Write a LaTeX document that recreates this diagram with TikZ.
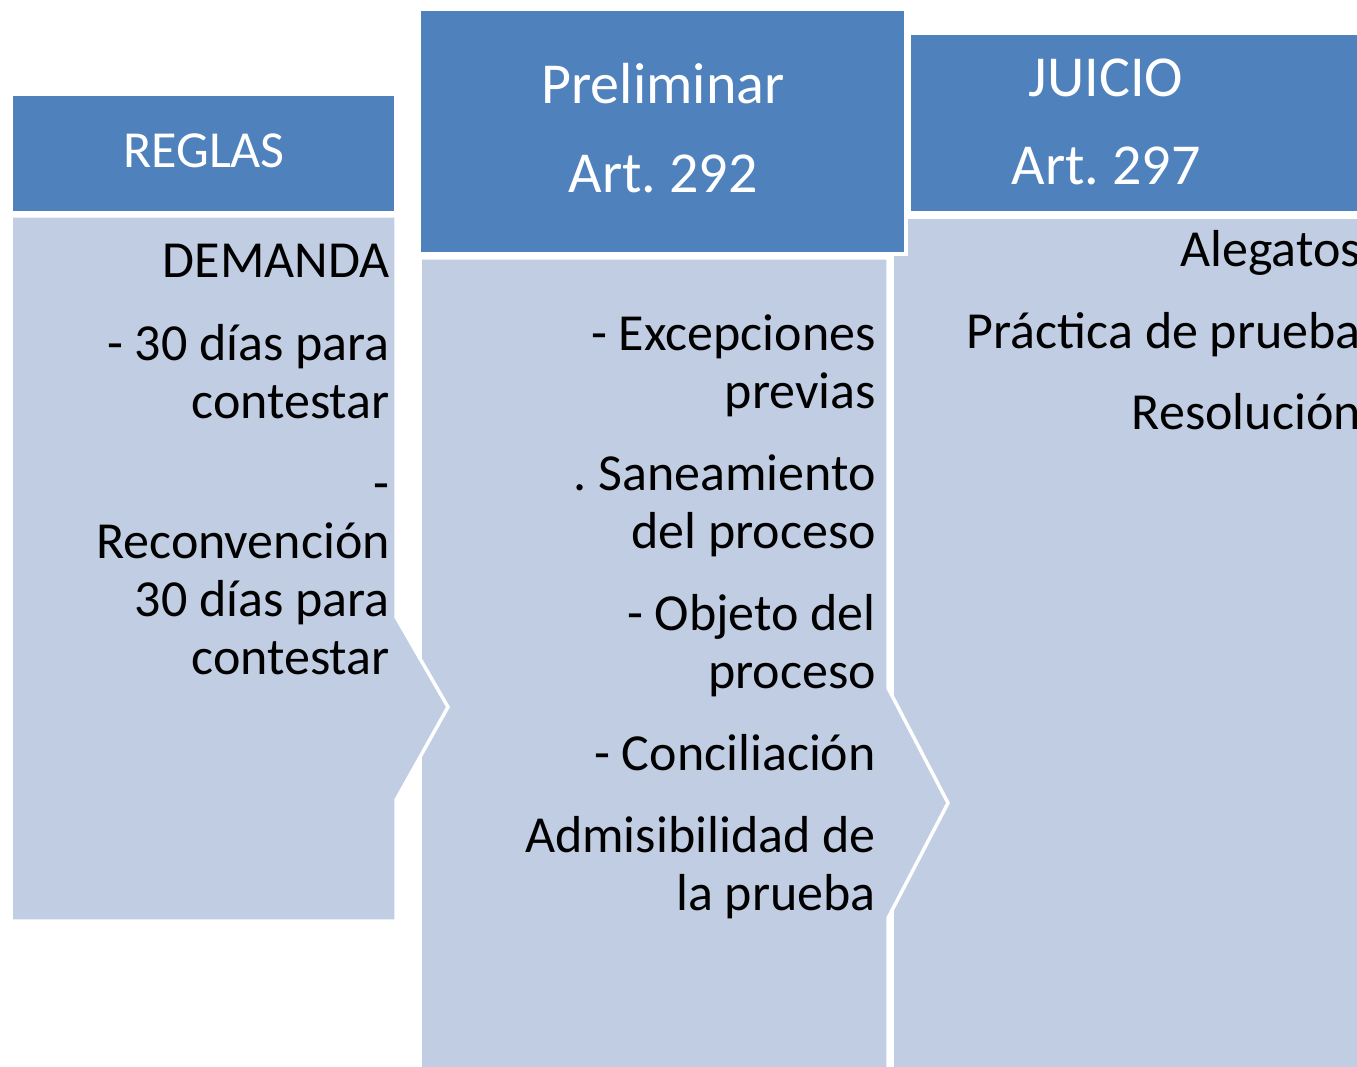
\documentclass[tikz,border=0pt]{standalone}
\usepackage{fontspec}
\setmainfont{Carlito}
\frenchspacing
\definecolor{hdr}{HTML}{4F81BD}
\definecolor{bdy}{HTML}{C1CDE2}
\begin{document}
\begin{tikzpicture}[x=1pt,y=-1pt,
  hdrbox/.style={fill=hdr,draw=white,line width=3.5pt},
  bdybox/.style={fill=bdy,draw=white,line width=3.5pt,line join=miter},
  ht/.style={text=white,font=\fontsize{58}{58}\selectfont,anchor=base,inner sep=0pt},
  bt/.style={text=black,font=\fontsize{52}{52}\selectfont,anchor=base east,inner sep=0pt}]
\useasboundingbox (0,0) rectangle (1357,1067);
\clip (0,0) rectangle (1357,1067);
% bodies
\path[bdybox] (892,217) -- (1380,217) -- (1380,1090) -- (892,1090) -- cycle;
\path[bdybox] (420,258) -- (888,258) -- (888,688) -- (948,803) -- (888,918) -- (888,1090) -- (420,1090) -- cycle;
\path[bdybox] (11,216) -- (396,216) -- (396,617) -- (448,707) -- (396,800) -- (396,921) -- (11,921) -- cycle;
% headers
\path[hdrbox] (419,9) rectangle (906,254);
\path[hdrbox] (909,33) rectangle (1380,213);
\path[hdrbox] (11,94) rectangle (396,213);
% header text
\node[ht,font=\fontsize{52}{52}\selectfont] (h1) at (204,168) {REGLAS};
\node[ht] (h2a) at (663,104) {Preliminar};
\node[ht] (h2b) at (663,193) {Art. 292};
\node[ht] (h3a) at (1106,97) {JUICIO};
\node[ht] (h3b) at (1106,185) {Art. 297};
% panel 1 text
\node[bt] (a1) at (390,278) {DEMANDA};
\node[bt] (a2) at (390,360) {- 30 días para};
\node[bt] (a3) at (390,418) {contestar};
\node[bt] (a4) at (390,500) {-};
\node[bt] (a5) at (390,558) {Reconvención};
\node[bt] (a6) at (390,616) {30 días para};
\node[bt] (a7) at (390,674) {contestar};
% panel 2 text
\node[bt] (b1) at (876,350) {- Excepciones};
\node[bt] (b2) at (876,408) {previas};
\node[bt] (b3) at (876,490) {. Saneamiento};
\node[bt] (b4) at (876,548) {del proceso};
\node[bt] (b5) at (876,630) {- Objeto del};
\node[bt] (b6) at (876,688) {proceso};
\node[bt] (b7) at (876,770) {- Conciliación};
\node[bt] (b8) at (876,852) {Admisibilidad de};
\node[bt] (b9) at (876,910) {la prueba};
% panel 3 text
\node[bt] (c1) at (1361,267) {Alegatos};
\node[bt] (c2) at (1361,348) {Práctica de prueba};
\node[bt] (c3) at (1361,429) {Resolución};
\end{tikzpicture}
\end{document}
